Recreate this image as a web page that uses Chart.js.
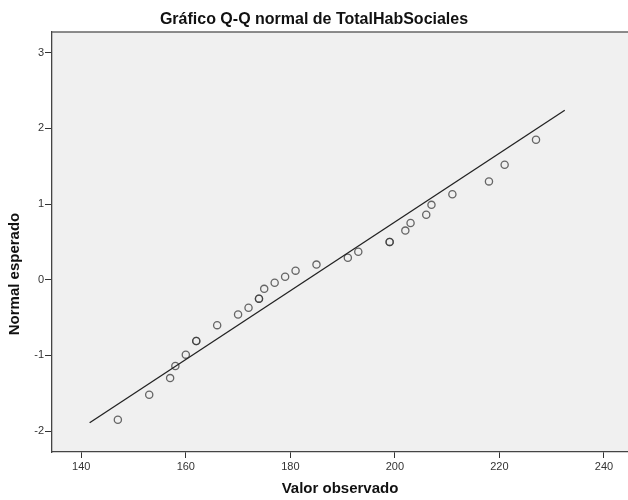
<!DOCTYPE html>
<html>
<head>
<meta charset="utf-8">
<title>Gráfico Q-Q normal de TotalHabSociales</title>
<script src="https://cdn.jsdelivr.net/npm/chart.js@4/dist/chart.umd.min.js"></script>
<style>
  body{ margin:0; background:#fff; }
  #qqChart{ display:block; }
</style>
</head>
<body>
<canvas id="qqChart" width="628" height="500"></canvas>
<script>
const observed = [147, 153, 157, 158, 160, 162, 162, 166, 170, 172, 174, 174, 175, 177, 179, 181, 185, 191, 193, 199, 199, 202, 203, 206, 207, 211, 218, 221, 227];
const expected = [-1.85, -1.52, -1.30, -1.14, -0.99, -0.81, -0.81, -0.60, -0.46, -0.37, -0.25, -0.25, -0.12, -0.04, 0.04, 0.12, 0.20, 0.29, 0.37, 0.50, 0.50, 0.65, 0.75, 0.86, 0.99, 1.13, 1.30, 1.52, 1.85];

// Reference line end points
const lineX = [141.6, 232.5];
const lineY = [-1.89, 2.24];

// Axis ticks
const xTicks = [140, 160, 180, 200, 220, 240];
const yTicks = [-2, -1, 0, 1, 2, 3];

const yTitle = "Normal esperado";
const fontFamily = "'Liberation Sans', Arial, sans-serif";

const points = observed.map((v, i) => ({ x: v, y: expected[i] }));
const linePoints = lineX.map((v, i) => ({ x: v, y: lineY[i] }));

// Grey plot background, top frame line, y title (sits a bit below centre like SPSS)
const framePlugin = {
  id: "frame",
  beforeDraw(chart){
    const { ctx, chartArea } = chart;
    ctx.save();
    ctx.fillStyle = "#f0f0f0";
    ctx.fillRect(chartArea.left, chartArea.top, chartArea.right - chartArea.left, chartArea.bottom - chartArea.top);
    ctx.restore();
  },
  afterDraw(chart){
    const { ctx, chartArea } = chart;
    ctx.save();
    ctx.strokeStyle = "#666";
    ctx.lineWidth = 1.5;
    ctx.beginPath();
    ctx.moveTo(chartArea.left, chartArea.top);
    ctx.lineTo(chartArea.right, chartArea.top);
    ctx.stroke();

    ctx.translate(15, 274);
    ctx.rotate(-Math.PI / 2);
    ctx.fillStyle = "#111";
    ctx.font = "bold 15px " + fontFamily;
    ctx.textAlign = "center";
    ctx.textBaseline = "middle";
    ctx.fillText(yTitle, 0, 0);
    ctx.restore();
  }
};

const chart = new Chart(document.getElementById("qqChart"), {
  type: "scatter",
  data: {
    datasets: [
      {
        type: "line",
        data: linePoints,
        borderColor: "#222",
        borderWidth: 1.3,
        pointRadius: 0,
        fill: false
      },
      {
        data: points,
        pointStyle: "circle",
        pointRadius: 3.6,
        backgroundColor: "transparent",
        borderColor: "rgba(55,55,55,0.75)",
        borderWidth: 1.3
      }
    ]
  },
  options: {
    responsive: false,
    animation: false,
    devicePixelRatio: 1,
    layout: { padding: 0, autoPadding: false },
    plugins: {
      legend: { display: false },
      tooltip: { enabled: false },
      title: {
        display: true,
        text: "Gráfico Q-Q normal de TotalHabSociales",
        color: "#111",
        font: { family: fontFamily, size: 16, weight: "bold" },
        padding: { top: 10, bottom: 2.8 }
      }
    },
    scales: {
      x: {
        type: "linear",
        min: 134.4,
        max: 244.6,
        afterBuildTicks: scale => { scale.ticks = xTicks.map(v => ({ value: v })); },
        afterFit: scale => {
          scale.height = 48;
          scale.paddingLeft = 0;
          scale.paddingRight = 0;
        },
        ticks: {
          color: "#333",
          font: { family: fontFamily, size: 11 },
          padding: 2,
          maxRotation: 0
        },
        grid: { drawOnChartArea: false, tickLength: 6, tickColor: "#333" },
        border: { color: "#444", width: 1.3 },
        title: {
          display: true,
          text: "Valor observado",
          color: "#111",
          font: { family: fontFamily, size: 15, weight: "bold" },
          padding: { top: 2, bottom: 2 }
        }
      },
      y: {
        type: "linear",
        min: -2.277,
        max: 3.275,
        afterBuildTicks: scale => { scale.ticks = yTicks.map(v => ({ value: v })); },
        afterFit: scale => { scale.width = 52; },
        ticks: {
          color: "#333",
          font: { family: fontFamily, size: 11 },
          padding: 1
        },
        grid: { drawOnChartArea: false, tickLength: 7, tickColor: "#333" },
        border: { color: "#444", width: 1.3 }
      }
    }
  },
  plugins: [framePlugin]
});
</script>
</body>
</html>
